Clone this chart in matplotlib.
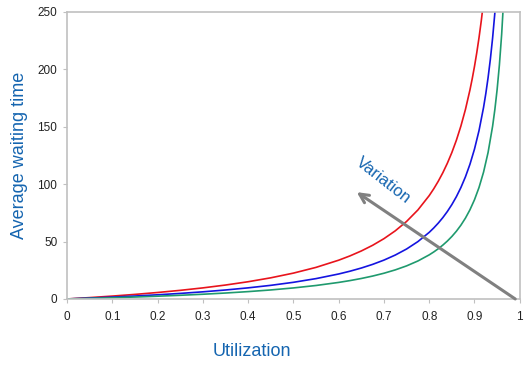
import matplotlib
matplotlib.use("Agg")
import matplotlib.pyplot as plt

plt.rcParams['font.family'] = ['Liberation Sans', 'DejaVu Sans']

util_red = [0, 0.05, 0.1, 0.15, 0.2, 0.25, 0.3, 0.35, 0.4, 0.45, 0.5, 0.55, 0.6, 0.625, 0.65, 0.675, 0.7, 0.725, 0.75, 0.775,
            0.8, 0.81, 0.82, 0.83, 0.84, 0.85, 0.86, 0.87, 0.88, 0.89, 0.895, 0.9, 0.905, 0.91, 0.915, 0.92]
wait_red = [0, 1.18, 2.5, 3.97, 5.63, 7.5, 9.64, 12.12, 15.0, 18.41, 22.5, 27.5, 33.75, 37.5, 41.79, 46.73, 52.5, 59.32, 67.5, 77.5,
            90.0, 95.92, 102.5, 109.85, 118.13, 127.5, 138.21, 150.58, 165.0, 182.05, 191.79, 202.5, 214.34, 227.5, 242.21, 258.75]

util_blue = [0, 0.05, 0.1, 0.15, 0.2, 0.25, 0.3, 0.35, 0.4, 0.45, 0.5, 0.55, 0.6, 0.625, 0.65, 0.675, 0.7, 0.725, 0.75, 0.775,
             0.8, 0.81, 0.82, 0.83, 0.84, 0.85, 0.86, 0.87, 0.88, 0.89, 0.9, 0.91, 0.92, 0.925, 0.93, 0.935, 0.94, 0.945, 0.95]
wait_blue = [0, 0.76, 1.61, 2.56, 3.63, 4.83, 6.21, 7.81, 9.67, 11.86, 14.5, 17.72, 21.75, 24.17, 26.93, 30.12, 33.83, 38.23, 43.5, 49.94,
             58.0, 61.82, 66.06, 70.79, 76.13, 82.17, 89.07, 97.04, 106.33, 117.32, 130.5, 146.61, 166.75, 178.83, 192.64, 208.58, 227.17, 249.14, 275.5]

util_green = [0, 0.05, 0.1, 0.15, 0.2, 0.25, 0.3, 0.35, 0.4, 0.45, 0.5, 0.55, 0.6, 0.625, 0.65, 0.675, 0.7, 0.725, 0.75, 0.775,
              0.8, 0.81, 0.82, 0.83, 0.84, 0.85, 0.86, 0.87, 0.88, 0.89, 0.9, 0.91, 0.92, 0.93, 0.94, 0.945, 0.95, 0.955, 0.96, 0.965]
wait_green = [0, 0.51, 1.07, 1.69, 2.4, 3.2, 4.11, 5.17, 6.4, 7.85, 9.6, 11.73, 14.4, 16.0, 17.83, 19.94, 22.4, 25.31, 28.8, 33.07,
              38.4, 40.93, 43.73, 46.87, 50.4, 54.4, 58.97, 64.25, 70.4, 77.67, 86.4, 97.07, 110.4, 127.54, 150.4, 164.95, 182.4, 203.73, 230.4, 264.69]

x_ticks = [0, 0.1, 0.2, 0.3, 0.4, 0.5, 0.6, 0.7, 0.8, 0.9, 1]
x_tick_labels = ['0', '0.1', '0.2', '0.3', '0.4', '0.5', '0.6', '0.7', '0.8', '0.9', '1']
y_ticks = [0, 50, 100, 150, 200, 250]

arrow_tail = (0.99, 0)
arrow_head = (0.64, 93)

label_blue = '#1565b0'
spine_grey = '#c0c0c0'

fig = plt.figure(figsize=(5.32, 3.70), dpi=100)
ax = fig.add_axes([0.126, 0.192, 0.851, 0.776])

ax.plot(util_red, wait_red, color='#e8141c', lw=1.2)
ax.plot(util_blue, wait_blue, color='#1414e0', lw=1.2)
ax.plot(util_green, wait_green, color='#1f9a6e', lw=1.2)

ax.set_xlim(0, 1)
ax.set_ylim(0, 250)
ax.set_xticks(x_ticks)
ax.set_xticklabels(x_tick_labels)
ax.set_yticks(y_ticks)

for s in ax.spines.values():
    s.set_color(spine_grey)
    s.set_linewidth(1.2)

ax.tick_params(axis='both', colors=spine_grey, labelcolor='#222222', labelsize=8.5, length=3, width=0.8)
ax.tick_params(axis='x', pad=6)
ax.tick_params(axis='y', pad=4)

ax.set_xlabel('Utilization', color=label_blue, fontsize=13)
ax.xaxis.set_label_coords(0.408, -0.155)
ax.set_ylabel('Average waiting time', color=label_blue, fontsize=13)
ax.yaxis.set_label_coords(-0.086, 0.5)

ax.annotate('', xy=arrow_head, xytext=arrow_tail,
            arrowprops=dict(arrowstyle='->', color='#808080', lw=2.2, mutation_scale=16,
                            shrinkA=0, shrinkB=0), annotation_clip=False)

ax.text(0.698, 103, 'Variation', color=label_blue, fontsize=12, rotation=-38,
        ha='center', va='center', rotation_mode='anchor')

fig.savefig('out.png', dpi=100, facecolor='white')
